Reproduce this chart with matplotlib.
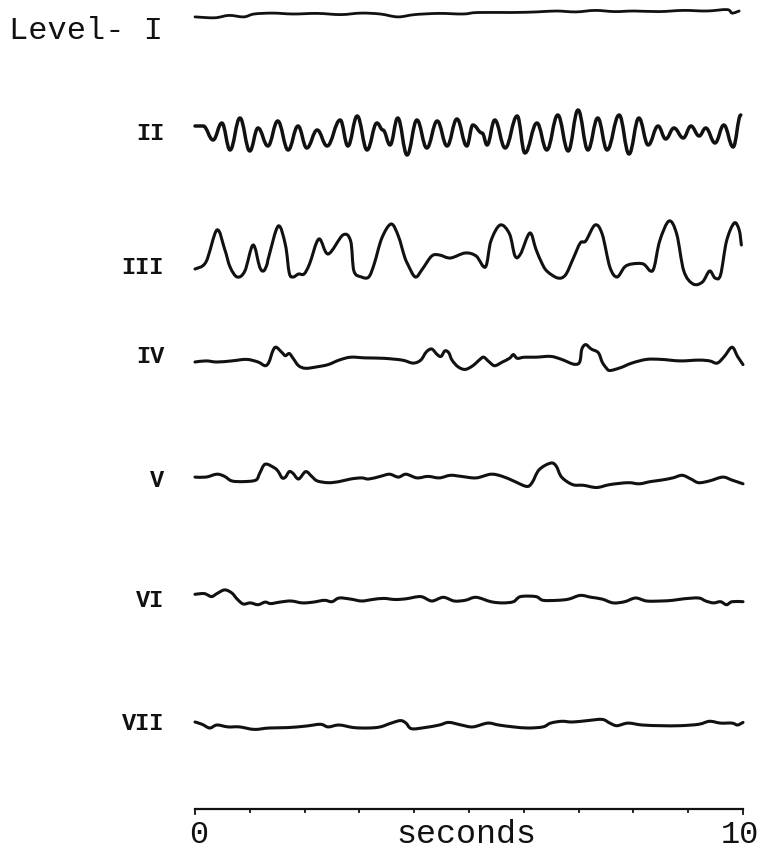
import numpy as np
import matplotlib
matplotlib.use("Agg")
import matplotlib.pyplot as plt
from matplotlib.path import Path
from matplotlib.patches import PathPatch

# ---- data: time (s) and deflection (up positive) for each level ----
t_1 = [0.00, 0.36, 0.62, 0.89, 1.08, 1.42, 1.79, 2.23, 2.66, 3.03, 3.38, 3.70, 4.01, 4.45,
       4.89, 5.16, 5.78, 6.24, 6.59, 6.95, 7.30, 7.66, 8.01, 8.47, 8.91, 9.34, 9.71, 9.80, 9.93]
d_1 = [-2.9, -3.8, -1.4, -2.9, 0, 0.9, 0, 0.6, -0.6, 0.9, 0, -2.9, -0.6, 0.6,
       0, 1.5, 1.5, 2.1, 3.0, 2.1, 3.6, 2.4, 3.0, 2.4, 3.6, 3.0, 4.4, 0.9, 3.0]

t_2 = [0.00, 0.15, 0.33, 0.49, 0.64, 0.82, 1.00, 1.15, 1.33, 1.51, 1.70, 1.88, 2.04, 2.23,
       2.41, 2.65, 2.79, 2.96, 3.14, 3.32, 3.43, 3.56, 3.70, 3.87, 4.05, 4.23, 4.42, 4.60,
       4.78, 4.96, 5.07, 5.24, 5.33, 5.47, 5.66, 5.88, 6.02, 6.24, 6.42, 6.62, 6.81, 6.99,
       7.17, 7.35, 7.52, 7.74, 7.92, 8.10, 8.27, 8.45, 8.59, 8.74, 8.91, 9.05, 9.20, 9.32,
       9.49, 9.65, 9.82, 9.96]
d_2 = [9, 9, -5, 12, -15, 17, -16, 7, -11, 14, -15, 9, -13, 5,
       -11, 15, -11, 19, -15, 12, 5, -10, 17, -20, 15, -13, 14, -11,
       16, -11, 10, 2, -10, 15, -13, 19, -18, 12, -15, 20, -16, 25,
       -15, 17, -15, 20, -19, 17, -10, 9, -4, 7, -3, 9, -1, 7,
       -8, 10, -12, 20]

t_3 = [0.00, 0.20, 0.40, 0.54, 0.64, 0.77, 0.91, 1.06, 1.18, 1.25, 1.31, 1.35, 1.52, 1.65,
       1.72, 1.79, 1.89, 1.99, 2.09, 2.26, 2.43, 2.70, 2.84, 2.90, 3.04, 3.17, 3.27, 3.41,
       3.58, 3.71, 3.82, 3.88, 4.02, 4.15, 4.32, 4.46, 4.66, 4.93, 5.13, 5.30, 5.40, 5.57,
       5.74, 5.84, 5.94, 6.11, 6.22, 6.32, 6.42, 6.62, 6.76, 6.89, 7.03, 7.13, 7.30, 7.43,
       7.57, 7.70, 7.84, 7.97, 8.18, 8.31, 8.38, 8.48, 8.65, 8.79, 8.92, 9.09, 9.26, 9.39,
       9.49, 9.59, 9.70, 9.84, 9.93, 9.97]
d_3 = [-16, -9, 23, 4, -14, -24, -18, 8, -14, -18, -12, -3, 27, 8,
       -20, -24, -21, -21, -11, 14, -1, 18, 12, -18, -24, -24, -11, 15,
       29, 17, -3, -11, -24, -16, -3, -2, -5, 0, -3, -14, 12, 28,
       19, -3, -1, 20, 4, -9, -18, -25, -22, -7, 10, 12, 28, 19,
       -14, -24, -14, -11, -11, -18, -14, 12, 32, 19, -18, -31, -29, -18,
       -25, -22, 12, 30, 23, 8]

t_4 = [0.00, 0.20, 0.40, 0.67, 0.94, 1.15, 1.28, 1.35, 1.42, 1.48, 1.59, 1.65, 1.72, 1.79,
       1.89, 2.02, 2.23, 2.43, 2.63, 2.84, 3.11, 3.44, 3.78, 3.98, 4.12, 4.22, 4.32, 4.42,
       4.49, 4.56, 4.63, 4.69, 4.80, 4.93, 5.07, 5.20, 5.27, 5.37, 5.47, 5.61, 5.74, 5.81,
       5.88, 6.01, 6.22, 6.49, 6.69, 6.89, 6.99, 7.03, 7.06, 7.13, 7.23, 7.36, 7.43, 7.50,
       7.57, 7.77, 7.97, 8.24, 8.51, 8.85, 9.19, 9.39, 9.53, 9.66, 9.80, 9.90, 10.00]
d_4 = [0, 1.1, 0, 1.1, 2.6, 0, -3.7, 0, 11.1, 14.8, 9.3, 6.3, 8.5, 3.7,
       -3.7, -6.3, -4.8, -2.6, 1.9, 4.8, 4.1, 3.7, 1.9, -1.1, 1.9, 10.0, 13.0, 7.4,
       5.6, 11.1, 9.3, 1.9, -4.8, -7.4, -3.7, 2.6, 4.8, 0, -3.7, 0, 3.7, 7.4,
       3.7, 4.8, 4.8, 5.6, 2.6, -1.9, -1.9, 1.9, 13.0, 17.4, 13.0, 9.3, 0, -5.6,
       -8.5, -5.6, -1.1, 2.6, 2.6, 1.1, 1.9, 1.1, -1.1, 5.6, 14.8, 5.6, -2.6]

t_5 = [0.00, 0.20, 0.40, 0.54, 0.67, 0.88, 1.11, 1.18, 1.28, 1.45, 1.52, 1.59, 1.65, 1.72,
       1.79, 1.89, 2.02, 2.13, 2.23, 2.43, 2.63, 2.84, 3.04, 3.17, 3.38, 3.55, 3.71, 3.85,
       4.05, 4.25, 4.46, 4.66, 4.86, 5.13, 5.40, 5.61, 5.81, 6.05, 6.15, 6.28, 6.49, 6.59,
       6.69, 6.89, 7.09, 7.33, 7.57, 7.90, 8.11, 8.31, 8.51, 8.72, 8.89, 9.05, 9.19, 9.39,
       9.63, 9.80, 10.00]
d_5 = [1.9, 1.9, 4.8, 2.6, -1.9, -2.6, -1.1, 5.6, 14.8, 11.1, 7.4, 1.1, 1.9, 7.4,
       5.6, 0, 7.4, 2.6, -1.9, -3.7, -2.6, 0, 1.1, 0, 2.6, 4.8, 1.9, 4.8,
       1.1, 2.6, 1.1, 3.7, 2.6, 1.1, 4.8, 2.6, -1.9, -7.4, -3.7, 9.3, 15.9, 13.0,
       1.9, -5.6, -6.3, -8.5, -5.6, -3.7, -4.8, -2.6, -1.1, 1.1, 3.7, 0, -3.7, -1.9,
       1.9, -1.1, -4.8]

t_6 = [0.00, 0.17, 0.30, 0.40, 0.54, 0.67, 0.77, 0.88, 1.01, 1.15, 1.28, 1.38, 1.55, 1.75,
       1.96, 2.16, 2.36, 2.50, 2.63, 2.84, 3.04, 3.24, 3.44, 3.65, 3.85, 4.12, 4.32, 4.53,
       4.73, 4.93, 5.13, 5.40, 5.61, 5.81, 5.94, 6.22, 6.35, 6.62, 6.82, 7.03, 7.23, 7.43,
       7.63, 7.84, 8.04, 8.24, 8.51, 8.72, 8.92, 9.19, 9.32, 9.46, 9.59, 9.70, 9.80, 10.00]
d_6 = [6.7, 7.4, 4.4, 7.4, 11.1, 8.1, 1.9, -3.0, -1.9, -3.7, -1.1, -2.6, -1.1, 0,
       -1.9, -1.1, 0.7, -0.7, 3.0, 1.9, 0, 1.5, 2.6, 1.5, 2.2, 4.4, 0, 3.7,
       0, 0.7, 3.7, -0.7, -1.9, -0.7, 4.4, 4.4, 0.7, 0.7, 1.9, 5.6, 3.7, 1.9,
       -1.9, -0.7, 3.0, 0, 0, 0.7, 2.2, 3.0, 0, -1.9, -0.7, -3.7, -0.7, -0.7]

t_7 = [0.00, 0.13, 0.27, 0.40, 0.60, 0.81, 1.08, 1.35, 1.69, 2.02, 2.29, 2.43, 2.63, 2.90,
       3.17, 3.38, 3.58, 3.75, 3.85, 3.95, 4.19, 4.46, 4.63, 4.86, 5.07, 5.34, 5.54, 5.81,
       6.08, 6.35, 6.49, 6.69, 6.89, 7.16, 7.43, 7.57, 7.70, 7.90, 8.16, 8.51, 8.85, 9.19,
       9.39, 9.59, 9.80, 9.90, 10.00]
d_7 = [3.0, 0.7, -3.0, 0, -1.9, -1.9, -4.4, -3.0, -2.6, -1.1, 0.7, -1.9, 0, -2.6,
       -3.0, -1.9, 1.9, 4.4, 1.9, -3.7, -2.6, 0, 2.6, 0, -1.9, 1.9, 0, -1.9,
       -3.0, -1.9, 1.9, 3.7, 3.0, 4.4, 5.6, 1.9, -0.7, 1.9, 0, -0.7, -0.7, 0.7,
       3.7, 1.9, 1.9, 0, 2.6]

levels = ["Level- I", "II", "III", "IV", "V", "VI", "VII"]
scale_ticks = list(range(0, 11))

traces = [(t_1, d_1), (t_2, d_2), (t_3, d_3), (t_4, d_4), (t_5, d_5), (t_6, d_6), (t_7, d_7)]

# ---- layout ----
W, H = 765, 854
x0_px, px_per_s = 195, 54.8
row_base = [15, 136, 254, 363, 480, 602, 726]      # pixel rows of the baselines
label_y = [31, 133, 267, 357, 481, 601, 723]
line_w = [2.0, 2.5, 2.2, 2.2, 2.2, 2.2, 2.2]
flat_peaks = [False, True, False, False, False, False, False]
ink = "#111111"
mono = "Liberation Mono"


def smooth_path(t, y, flat=False):
    # bezier through the read points; flat=True keeps turning points level
    pts = np.column_stack([t, y]).astype(float)
    n = len(pts)
    verts = [pts[0]]
    codes = [Path.MOVETO]
    for i in range(n - 1):
        p1 = pts[i]
        p2 = pts[i + 1]
        if flat:
            dx = p2[0] - p1[0]
            c1 = [p1[0] + 0.4 * dx, p1[1]]
            c2 = [p2[0] - 0.4 * dx, p2[1]]
        else:
            p0 = pts[max(i - 1, 0)]
            p3 = pts[min(i + 2, n - 1)]
            c1 = p1 + (p2 - p0) / 6
            c2 = p2 - (p3 - p1) / 6
        verts += [c1, c2, p2]
        codes += [Path.CURVE4] * 3
    return Path(verts, codes)


fig = plt.figure(figsize=(W / 100, H / 100), dpi=100)
ax = fig.add_axes([0, 0, 1, 1])
ax.set_xlim(-x0_px / px_per_s, (W - x0_px) / px_per_s)
ax.set_ylim(H, 0)
ax.axis("off")

for (t, d), base, lw, fl in zip(traces, row_base, line_w, flat_peaks):
    y = base - np.asarray(d)
    ax.add_patch(PathPatch(smooth_path(t, y, fl), fill=False, ec=ink, lw=lw,
                           capstyle="round", joinstyle="round"))

# row labels
fig.text(9 / W, 1 - label_y[0] / H, levels[0], family=mono, fontsize=23,
         ha="left", va="center", color=ink)
for lab, ly in zip(levels[1:], label_y[1:]):
    fig.text(164 / W, 1 - ly / H, lab, family=mono, fontsize=17, fontweight="bold",
             ha="right", va="center", color=ink)

# time scale bar
bar_y = 810
ax.plot([scale_ticks[0], scale_ticks[-1]], [bar_y, bar_y], color=ink, lw=1.6)
for s in scale_ticks:
    tl = 5 if s in (scale_ticks[0], scale_ticks[-1]) else 2.5
    ax.plot([s, s], [bar_y, bar_y + tl], color=ink, lw=1.3)

ax.text(0.07, 835, "0", family=mono, fontsize=23, ha="center", va="center", color=ink)
ax.text(9.95, 835, "10", family=mono, fontsize=23, ha="center", va="center", color=ink)
ax.text(4.95, 835, "seconds", family=mono, fontsize=24, ha="center", va="center", color=ink)

fig.savefig("out.png", dpi=100, facecolor="white")
